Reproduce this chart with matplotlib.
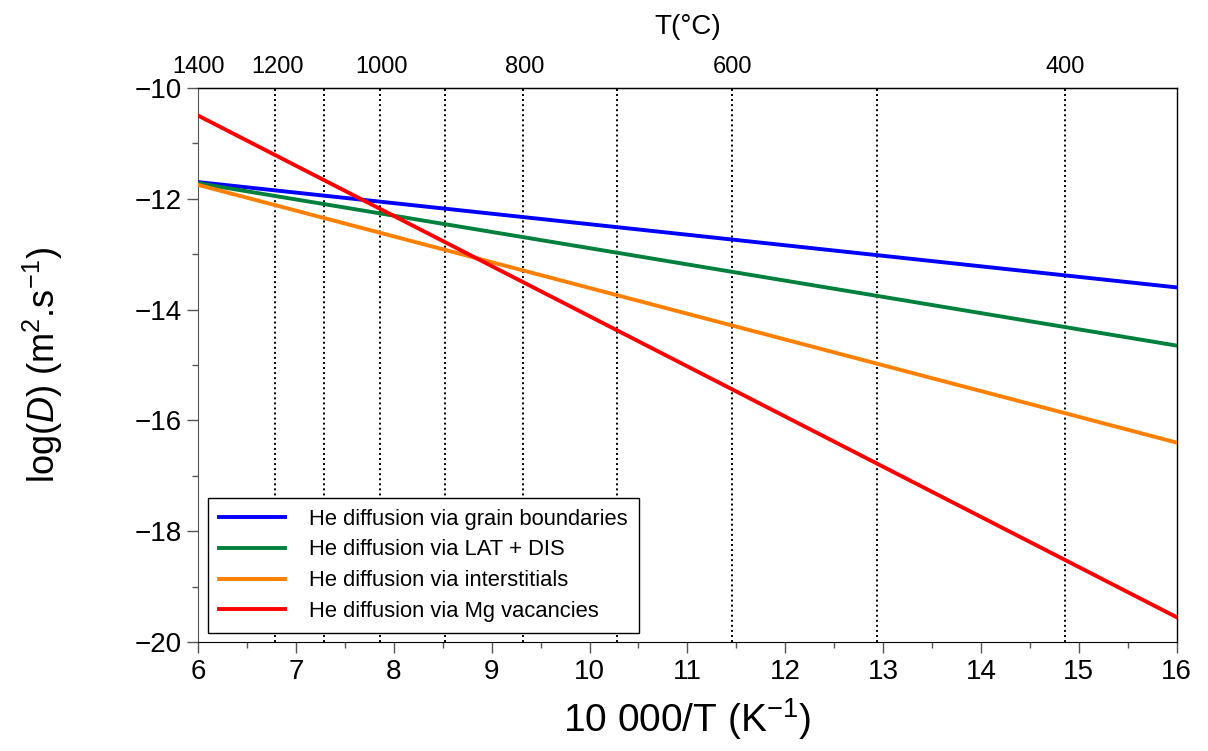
import matplotlib
matplotlib.use("Agg")
import matplotlib.pyplot as plt
import numpy as np

plt.rcParams['font.family'] = ['Liberation Sans', 'DejaVu Sans']
plt.rcParams['mathtext.fontset'] = 'custom'
plt.rcParams['mathtext.rm'] = 'Liberation Sans'
plt.rcParams['mathtext.it'] = 'Liberation Sans:italic'

# x range (10000/T) and log(D) at both ends for each mechanism
x_ends = [6, 16]
grain = [-11.70, -13.60]
latdis = [-11.72, -14.65]
inter = [-11.75, -16.40]
mgvac = [-10.50, -19.55]

labels = ['He diffusion via grain boundaries', 'He diffusion via LAT + DIS',
          'He diffusion via interstitials', 'He diffusion via Mg vacancies']
colors = ['#0000ff', '#00803c', '#ff8000', '#ff0000']

# temperatures in C: dotted guides and top labels
guide_T = [1200, 1100, 1000, 900, 800, 700, 600, 500, 400]
top_T = [1400, 1200, 1000, 800, 600, 400]


def inv(tc):
    return 10000.0 / (np.array(tc) + 273.15)


fig = plt.figure(figsize=(12.08, 7.51), dpi=100)
ax = fig.add_axes([0.164, 0.145, 0.81, 0.738])

for xg in inv(guide_T):
    ax.axvline(xg, color='black', ls=(0, (1, 1.6)), lw=1.4, zorder=1)

for ys, c, lab in zip([grain, latdis, inter, mgvac], colors, labels):
    ax.plot(x_ends, ys, color=c, lw=2.8, label=lab, zorder=3)

ax.set_xlim(6, 16)
ax.set_ylim(-20, -10)
ax.set_xticks(np.arange(6, 17, 1))
ax.set_xticks(np.arange(6, 16.5, 0.5), minor=True)
ax.set_yticks(np.arange(-20, -9, 2))
ax.set_yticks(np.arange(-20, -9, 1), minor=True)
ax.tick_params(axis='both', which='major', direction='out', length=8, width=1,
               color='#555555', labelsize=20, pad=4)
ax.tick_params(axis='both', which='minor', direction='out', length=4, width=1,
               color='#555555')
ax.spines['left'].set_color('#555555')
ax.spines['bottom'].set_color('black')
for s in ['top', 'right']:
    ax.spines[s].set_linewidth(1.0)

ax.set_xlabel('10 000/T (K$^{-1}$)', fontsize=28, labelpad=8)
ax.set_ylabel('log($\\it{D}$) (m$^{2}$.s$^{-1}$)', fontsize=26, labelpad=50)

leg = ax.legend(loc='lower left', fontsize=15.8, frameon=True, fancybox=False,
                edgecolor='black', handlelength=3.0, handletextpad=1.1,
                borderpad=0.5, labelspacing=0.45, borderaxespad=0,
                bbox_to_anchor=(0.0102, 0.0162))
leg.get_frame().set_linewidth(1.0)
leg.get_frame().set_alpha(1)

ax2 = ax.twiny()
ax2.set_xlim(ax.get_xlim())
ax2.set_xticks(inv(top_T))
ax2.set_xticklabels([str(t) for t in top_T])
ax2.tick_params(axis='x', length=0, labelsize=17, pad=7)
ax2.set_xlabel('T(°C)', fontsize=20, labelpad=16)
for s in ['left', 'right', 'bottom']:
    ax2.spines[s].set_visible(False)

fig.savefig('out.png', dpi=100)
